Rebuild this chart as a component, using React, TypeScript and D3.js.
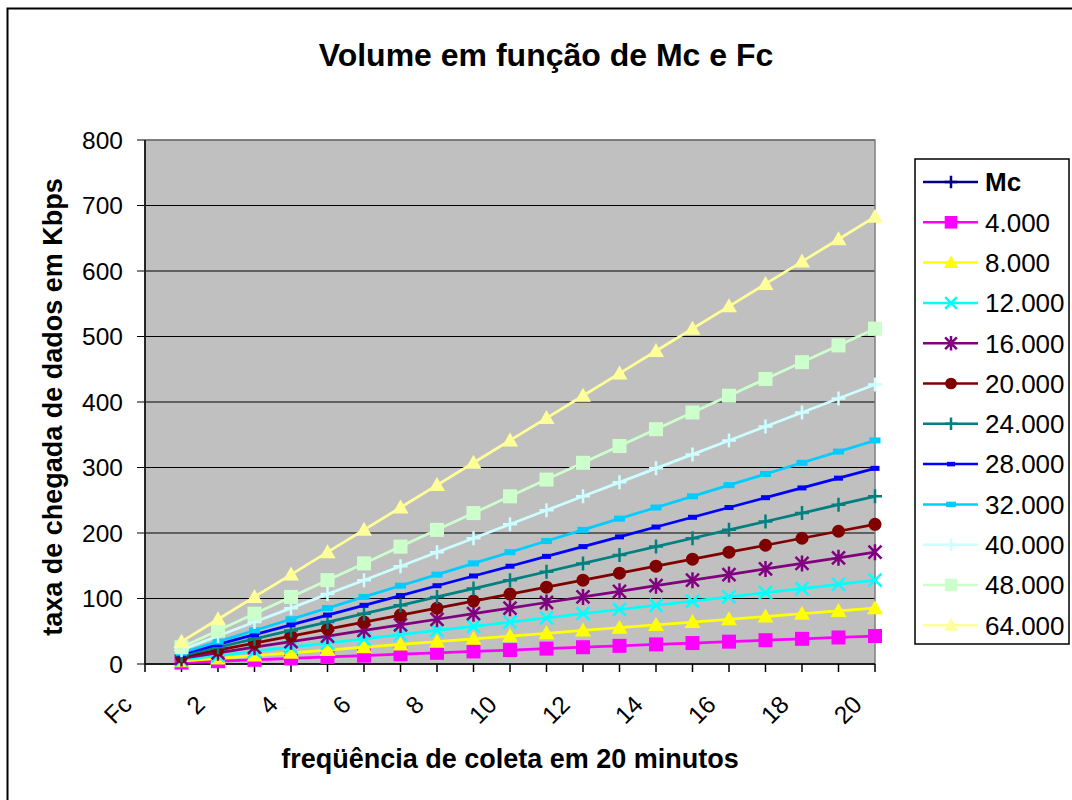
import React from "react";
import * as d3 from "d3";

const categories = ["Fc", "1", "2", "3", "4", "5", "6", "7", "8", "9", "10", "11", "12", "13", "14", "15", "16", "17", "18", "19", "20"];
const xLabels = ["Fc", "2", "4", "6", "8", "10", "12", "14", "16", "18", "20"];
const yTicks = [0, 100, 200, 300, 400, 500, 600, 700, 800];

const seriesNames = ["Mc", "4.000", "8.000", "12.000", "16.000", "20.000", "24.000", "28.000", "32.000", "40.000", "48.000", "64.000"];
const seriesColors = ["#000080", "#FF00FF", "#FFFF00", "#00FFFF", "#800080", "#800000", "#008080", "#0000FF", "#00CCFF", "#CCFFFF", "#CCFFCC", "#FFFF99"];
const seriesMarkers = ["plus", "square", "triangle", "x", "star", "circle", "plus", "dash", "dashBig", "plus", "square", "triangle"];

// values for Fc = 1..20 (Mc row has no values)
const mc: number[] = [];
const v4000 = [2.1, 4.3, 6.4, 8.5, 10.7, 12.8, 14.9, 17.1, 19.2, 21.3, 23.5, 25.6, 27.7, 29.9, 32.0, 34.1, 36.3, 38.4, 40.5, 42.7];
const v8000 = [4.3, 8.5, 12.8, 17.1, 21.3, 25.6, 29.9, 34.1, 38.4, 42.7, 46.9, 51.2, 55.5, 59.7, 64.0, 68.3, 72.5, 76.8, 81.1, 85.3];
const v12000 = [6.4, 12.8, 19.2, 25.6, 32.0, 38.4, 44.8, 51.2, 57.6, 64.0, 70.4, 76.8, 83.2, 89.6, 96.0, 102.4, 108.8, 115.2, 121.6, 128.0];
const v16000 = [8.5, 17.1, 25.6, 34.1, 42.7, 51.2, 59.7, 68.3, 76.8, 85.3, 93.9, 102.4, 110.9, 119.5, 128.0, 136.5, 145.1, 153.6, 162.1, 170.7];
const v20000 = [10.7, 21.3, 32.0, 42.7, 53.3, 64.0, 74.7, 85.3, 96.0, 106.7, 117.3, 128.0, 138.7, 149.3, 160.0, 170.7, 181.3, 192.0, 202.7, 213.3];
const v24000 = [12.8, 25.6, 38.4, 51.2, 64.0, 76.8, 89.6, 102.4, 115.2, 128.0, 140.8, 153.6, 166.4, 179.2, 192.0, 204.8, 217.6, 230.4, 243.2, 256.0];
const v28000 = [14.9, 29.9, 44.8, 59.7, 74.7, 89.6, 104.5, 119.5, 134.4, 149.3, 164.3, 179.2, 194.1, 209.1, 224.0, 238.9, 253.9, 268.8, 283.7, 298.7];
const v32000 = [17.1, 34.1, 51.2, 68.3, 85.3, 102.4, 119.5, 136.5, 153.6, 170.7, 187.7, 204.8, 221.9, 238.9, 256.0, 273.1, 290.1, 307.2, 324.3, 341.3];
const v40000 = [21.3, 42.7, 64.0, 85.3, 106.7, 128.0, 149.3, 170.7, 192.0, 213.3, 234.7, 256.0, 277.3, 298.7, 320.0, 341.3, 362.7, 384.0, 405.3, 426.7];
const v48000 = [25.6, 51.2, 76.8, 102.4, 128.0, 153.6, 179.2, 204.8, 230.4, 256.0, 281.6, 307.2, 332.8, 358.4, 384.0, 409.6, 435.2, 460.8, 486.4, 512.0];
const v64000 = [34.1, 68.3, 102.4, 136.5, 170.7, 204.8, 238.9, 273.1, 307.2, 341.3, 375.5, 409.6, 443.7, 477.9, 512.0, 546.1, 580.3, 614.4, 648.5, 682.7];

const seriesValues = [mc, v4000, v8000, v12000, v16000, v20000, v24000, v28000, v32000, v40000, v48000, v64000];

const FONT = "'Liberation Sans', Arial, sans-serif";

const Marker = ({ type, x, y, color, s = 1 }: { type: string; x: number; y: number; color: string; s?: number }) => {
  switch (type) {
    case "square":
      return <rect x={x - 7 * s} y={y - 7 * s} width={14 * s} height={14 * s} fill={color} />;
    case "triangle":
      return <path d={`M${x},${y - 8 * s}L${x + 8 * s},${y + 6 * s}L${x - 8 * s},${y + 6 * s}Z`} fill={color} />;
    case "circle":
      return <circle cx={x} cy={y} r={6.5 * s} fill={color} />;
    case "x":
      return (
        <path d={`M${x - 6.5 * s},${y - 6.5 * s}L${x + 6.5 * s},${y + 6.5 * s}M${x - 6.5 * s},${y + 6.5 * s}L${x + 6.5 * s},${y - 6.5 * s}`} stroke={color} strokeWidth={2.5} />
      );
    case "star":
      return (
        <path
          d={`M${x - 6.5 * s},${y - 6.5 * s}L${x + 6.5 * s},${y + 6.5 * s}M${x - 6.5 * s},${y + 6.5 * s}L${x + 6.5 * s},${y - 6.5 * s}M${x},${y - 8 * s}L${x},${y + 8 * s}`}
          stroke={color}
          strokeWidth={2.5}
        />
      );
    case "plus":
      return <path d={`M${x - 7 * s},${y}L${x + 7 * s},${y}M${x},${y - 7 * s}L${x},${y + 7 * s}`} stroke={color} strokeWidth={2.5} />;
    case "dash":
      return <rect x={x - 4.5 * s} y={y - 2.5 * s} width={9 * s} height={5 * s} fill={color} />;
    case "dashBig":
      return <rect x={x - 5.5 * s} y={y - 3 * s} width={11 * s} height={6 * s} fill={color} />;
    default:
      return null;
  }
};

export default function App() {
  const margin = { left: 145, top: 140, right: 875, bottom: 664 };

  const x = d3.scalePoint<string>().domain(categories).range([margin.left, margin.right]);
  const y = d3.scaleLinear().domain([0, 800]).range([margin.bottom, margin.top]);

  const line = d3
    .line<number>()
    .x((_, i) => x(categories[i + 1]) as number)
    .y((d) => y(d));

  const legendX = 915;
  const legendY = 159;
  const legendStep = 40.3;

  return (
    <svg width={1072} height={800} style={{ position: "absolute", left: 0, top: 0, background: "#fff" }} fontFamily={FONT}>
      <rect x={7.5} y={8.5} width={1080} height={800} fill="#fff" stroke="#000" strokeWidth={2} />

      <text x={546} y={66} textAnchor="middle" fontSize={32} fontWeight="bold">
        Volume em função de Mc e Fc
      </text>

      {/* plot area */}
      <rect x={margin.left} y={margin.top} width={margin.right - margin.left} height={margin.bottom - margin.top} fill="#C0C0C0" />
      {yTicks.map((t) => (
        <g key={t}>
          <line x1={margin.left - 8} x2={margin.right} y1={y(t)} y2={y(t)} stroke="#000" strokeWidth={1} />
          <text x={123} y={y(t)} dy="0.36em" textAnchor="end" fontSize={24.5}>
            {t}
          </text>
        </g>
      ))}
      <rect x={margin.left} y={margin.top} width={margin.right - margin.left} height={margin.bottom - margin.top} fill="none" stroke="#808080" strokeWidth={1.5} />
      <line x1={margin.left} x2={margin.right} y1={margin.bottom} y2={margin.bottom} stroke="#000" strokeWidth={1.5} />
      <line x1={margin.left} x2={margin.left} y1={margin.top} y2={margin.bottom} stroke="#000" strokeWidth={1.5} />

      {categories.map((c) => (
        <line key={c} x1={x(c)} x2={x(c)} y1={margin.bottom} y2={margin.bottom + 8} stroke="#000" strokeWidth={1.5} />
      ))}
      {xLabels.map((c) => {
        const px = (x(c) as number) - 11.5;
        const py = margin.bottom + 42;
        return (
          <text key={c} x={px} y={py} textAnchor="end" fontSize={24.5} transform={`rotate(-45 ${px} ${py})`}>
            {c}
          </text>
        );
      })}

      {/* series */}
      {seriesValues.map((vals, si) =>
        vals.length ? (
          <g key={seriesNames[si]}>
            <path d={line(vals) as string} fill="none" stroke={seriesColors[si]} strokeWidth={2.75} />
            {vals.map((v, i) => (
              <Marker key={i} type={seriesMarkers[si]} x={x(categories[i + 1]) as number} y={y(v)} color={seriesColors[si]} />
            ))}
          </g>
        ) : null
      )}

      {/* axis titles */}
      <text transform={`translate(62,407) rotate(-90)`} textAnchor="middle" fontSize={27} fontWeight="bold">
        taxa de chegada de dados em Kbps
      </text>
      <text x={510} y={768} textAnchor="middle" fontSize={27} fontWeight="bold">
        freqüência de coleta em 20 minutos
      </text>

      {/* legend */}
      <rect x={legendX} y={legendY} width={154} height={485} fill="#fff" stroke="#000" strokeWidth={1.5} />
      {seriesNames.map((n, i) => {
        const ly = 182 + i * legendStep;
        return (
          <g key={n}>
            <line x1={923} x2={978} y1={ly} y2={ly} stroke={seriesColors[i]} strokeWidth={2.5} />
            <Marker type={seriesMarkers[i]} x={951} y={ly} color={seriesColors[i]} s={0.9} />
            <text x={985} y={ly} dy="0.36em" fontSize={26} fontWeight={i === 0 ? "bold" : "normal"}>
              {n}
            </text>
          </g>
        );
      })}
    </svg>
  );
}
